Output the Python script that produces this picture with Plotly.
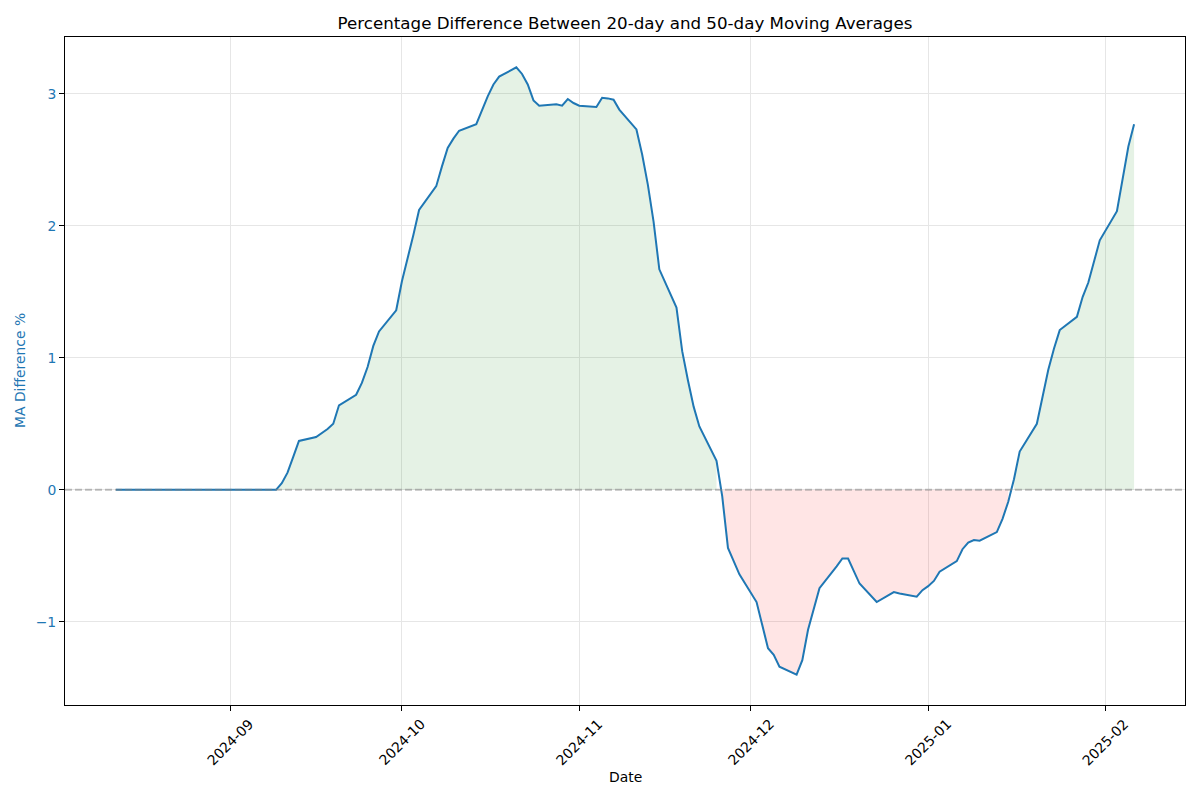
import pandas as pd
import plotly.graph_objects as go

# ---- data ----
start_date = "2024-08-12"
end_date = "2025-02-06"

aug_vals = [0.0] * 15
sep_vals = [0, 0, 0, 0, 0, 0,
            0.05, 0.13, 0.25, 0.37,
            0.40, 0.43, 0.46, 0.50, 0.64,
            0.72, 0.81, 0.93, 1.09, 1.20,
            1.36]
oct_vals = [1.58, 1.75, 1.93, 2.12,
            2.30, 2.45, 2.59, 2.66, 2.72,
            2.77, 2.88, 2.98, 3.07, 3.13,
            3.20, 3.15, 3.07, 2.95, 2.91,
            2.92, 2.91, 2.96, 2.93]
nov_vals = [2.91,
            2.90, 2.97, 2.965, 2.955, 2.88,
            2.73, 2.54, 2.31, 2.03, 1.67,
            1.38, 1.05, 0.83, 0.63, 0.48,
            0.22, -0.05, -0.44, -0.54, -0.64]
dec_vals = [-0.85, -1.03, -1.20, -1.25, -1.34,
            -1.40, -1.29, -1.06, -0.90, -0.745,
            -0.58, -0.52, -0.52, -0.61, -0.71,
            -0.85, -0.825, -0.80, -0.775, -0.785,
            -0.81, -0.76]
jan_vals = [-0.73, -0.69, -0.62,
            -0.54, -0.45, -0.40, -0.38, -0.385,
            -0.32, -0.22, -0.09, 0.08, 0.29,
            0.50, 0.70, 0.91, 1.07, 1.21,
            1.31, 1.46, 1.57, 1.72, 1.89]
feb_vals = [2.11, 2.36, 2.60, 2.77]

tick_dates = ["2024-09-01", "2024-10-01", "2024-11-01", "2024-12-01", "2025-01-01", "2025-02-01"]
tick_labels = ["2024-09", "2024-10", "2024-11", "2024-12", "2025-01", "2025-02"]
y_ticks = [-1, 0, 1, 2, 3]

dates = pd.bdate_range(start_date, end_date)
values = aug_vals + sep_vals + oct_vals + nov_vals + dec_vals + jan_vals + feb_vals
assert len(dates) == len(values), (len(dates), len(values))

BLUE = "#1f77b4"
FONT = "DejaVu Sans"
FS = 13.9
TFS = 16.7

fig = go.Figure()


def segments(pred):
    segs, cur = [], []
    for d, v in zip(dates, values):
        if pred(v):
            cur.append((d, v))
        elif cur:
            segs.append(cur)
            cur = []
    if cur:
        segs.append(cur)
    return segs


for pred, col in [(lambda v: v >= 0, "rgba(0,128,0,0.1)"), (lambda v: v < 0, "rgba(255,0,0,0.1)")]:
    for seg in segments(pred):
        xs = [s[0] for s in seg]
        ys = [s[1] for s in seg]
        fig.add_trace(go.Scatter(x=xs, y=ys, mode="none", fill="tozeroy",
                                 fillcolor=col, hoverinfo="skip", showlegend=False))

fig.add_trace(go.Scatter(x=dates, y=values, mode="lines",
                         line=dict(color=BLUE, width=2), showlegend=False))

# axis ranges with 5% padding, matplotlib-like
span = dates[-1] - dates[0]
xr = [dates[0] - span * 0.05, dates[-1] + span * 0.05]
vmin, vmax = min(values), max(values)
ypad = (vmax - vmin) * 0.05
yr = [vmin - ypad, vmax + ypad]

fig.add_shape(type="line", xref="paper", x0=0, x1=1, yref="y", y0=0, y1=0,
              line=dict(color="rgba(128,128,128,0.5)", width=2, dash="7px,3px"), layer="above")

fig.update_xaxes(type="date", range=xr, tickvals=tick_dates, showticklabels=False,
                 ticks="outside", ticklen=5, tickcolor="black",
                 showgrid=True, gridcolor="#e6e6e6", gridwidth=1,
                 showline=True, mirror=True, linecolor="black", linewidth=1, zeroline=False)
fig.update_yaxes(range=yr, tickvals=y_ticks, ticks="outside", ticklen=5, tickcolor="black",
                 tickfont=dict(color=BLUE, size=FS, family=FONT),
                 showgrid=True, gridcolor="#e6e6e6", gridwidth=1,
                 showline=True, mirror=True, linecolor="black", linewidth=1, zeroline=False)

annotations = []
for d, lab in zip(tick_dates, tick_labels):
    annotations.append(dict(x=d, xref="x", y=0, yref="paper", text=lab, showarrow=False,
                            textangle=-45, xanchor="center", yanchor="top", yshift=-8,
                            font=dict(size=FS, family=FONT, color="black")))
annotations.append(dict(x=0.5, xref="paper", y=0, yref="paper", text="Date", showarrow=False,
                        xanchor="center", yanchor="middle", yshift=-72,
                        font=dict(size=FS, family=FONT, color="black")))
annotations.append(dict(x=0, xref="paper", y=0.5, yref="paper", text="MA Difference %", showarrow=False,
                        textangle=-90, xanchor="center", yanchor="middle", xshift=-45,
                        font=dict(size=FS, family=FONT, color=BLUE)))

# the page body adds an 8px offset, so the figure is 8px smaller with matching margins
fig.update_layout(
    width=1192, height=792,
    margin=dict(l=57, r=15, t=29, b=95),
    plot_bgcolor="white", paper_bgcolor="white",
    title=dict(text="Percentage Difference Between 20-day and 50-day Moving Averages",
               x=(57 + 1177) / 2 / 1192, xanchor="center", y=1 - 15 / 792, yanchor="middle",
               font=dict(size=TFS, family=FONT, color="black")),
    annotations=annotations,
    font=dict(family=FONT),
)

fig.write_html("out.html")
